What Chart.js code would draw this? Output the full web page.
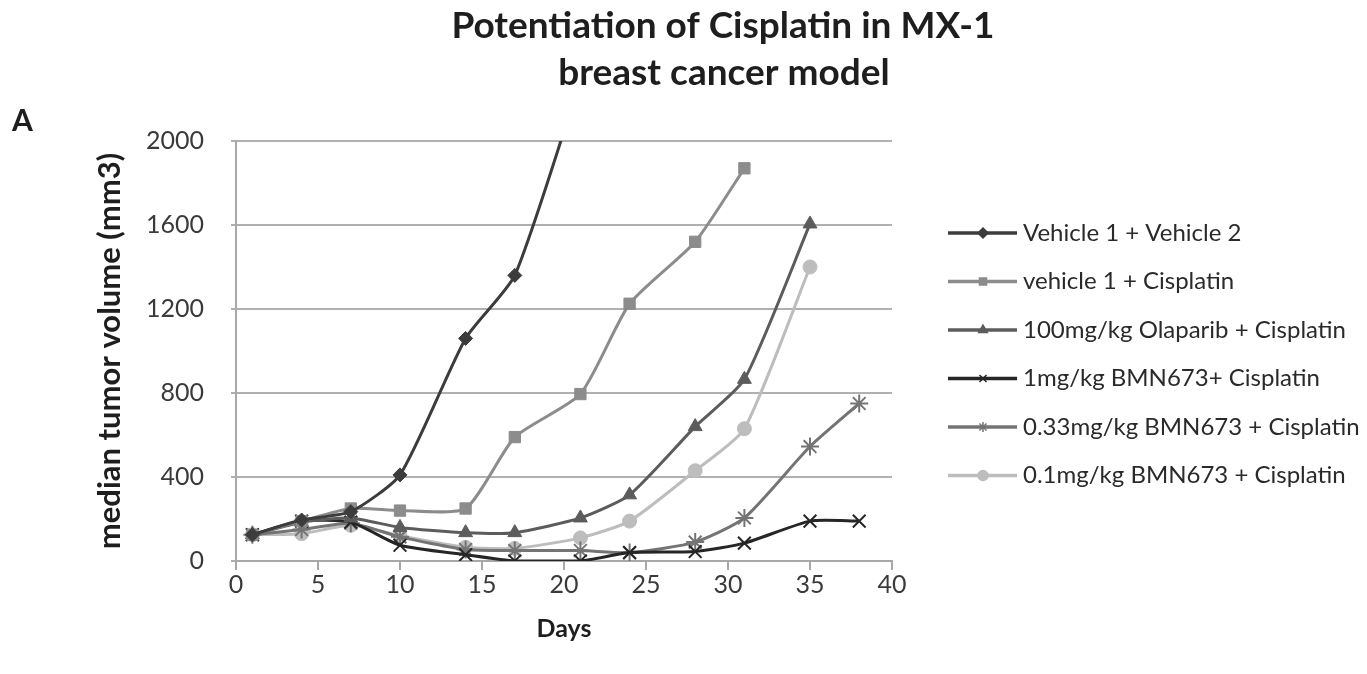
<!DOCTYPE html>
<html>
<head>
<meta charset="utf-8">
<script src="https://cdn.jsdelivr.net/npm/chart.js@4/dist/chart.umd.min.js"></script>
<style>
  html, body { margin: 0; padding: 0; background: #fff; }
  #wrap { width: 1367px; height: 674px; position: relative; }
</style>
</head>
<body>
<div id="wrap"><canvas id="c" width="1367" height="674"></canvas></div>
<script>
// values
let days = [1, 4, 7, 10, 14, 17, 21, 24, 28, 31, 35, 38]
let seriesNames = [
  'Vehicle 1 + Vehicle 2',
  'vehicle 1 + Cisplatin',
  '100mg/kg Olaparib + Cisplatin',
  '1mg/kg BMN673+ Cisplatin',
  '0.33mg/kg BMN673 + Cisplatin',
  '0.1mg/kg BMN673 + Cisplatin'
]
let vehicleVehicle = [125, 195, 235, 410, 1060, 1360, 2290, null, null, null, null, null]
let vehicleCis     = [125, 190, 250, 240, 250, 590, 795, 1225, 1520, 1870, null, null]
let olaparibCis    = [125, 185, 205, 160, 135, 135, 205, 315, 640, 865, 1605, null]
let bmn1Cis        = [125, 190, 185, 75, 30, 0, 0, 40, 45, 85, 190, 190]
let bmn033Cis      = [125, 150, 180, 115, 55, 50, 50, 40, 90, 205, 545, 750]
let bmn01Cis       = [125, 130, 170, 120, 65, 60, 110, 190, 430, 630, 1400, null]
let xTicks = [0, 5, 10, 15, 20, 25, 30, 35, 40]
let yTicks = [0, 400, 800, 1200, 1600, 2000]

let seriesValues = [vehicleVehicle, vehicleCis, olaparibCis, bmn1Cis, bmn033Cis, bmn01Cis]
let colors = ['#3c3c3c', '#8c8c8c', '#5c5c5c', '#262626', '#747474', '#bdbdbd']
let markers = ['rectRot', 'rect', 'triangle', 'crossRot', 'star', 'circle']
let markerSizes = [7, 8, 8, 9, 9, 7]

const FONT = 'Lato, "Open Sans", sans-serif'

function toPoints(vals) {
  let pts = []
  for (let i = 0; i < days.length; i++) {
    if (vals[i] == null) continue
    pts.push({x: days[i], y: vals[i]})
  }
  return pts
}

let datasets = seriesNames.map((name, i) => ({
  label: name,
  data: toPoints(seriesValues[i]),
  borderColor: colors[i],
  backgroundColor: colors[i],
  borderWidth: 3,
  pointStyle: markers[i],
  pointRadius: markerSizes[i],
  pointBorderWidth: (markers[i] == 'crossRot' || markers[i] == 'star') ? 2 : 1,
  pointBackgroundColor: colors[i],
  pointBorderColor: colors[i],
  tension: 0.2,
  fill: false
}))

function drawMarker(ctx, style, r, x, y, color, bw) {
  ctx.save()
  ctx.fillStyle = color
  ctx.strokeStyle = color
  ctx.lineWidth = bw
  if (Chart.helpers && Chart.helpers.drawPoint) {
    Chart.helpers.drawPoint(ctx, {pointStyle: style, radius: r, rotation: 0, borderWidth: bw}, x, y)
  } else {
    ctx.beginPath(); ctx.arc(x, y, r, 0, Math.PI * 2); ctx.fill()
  }
  ctx.restore()
}

// title, panel letter and the legend on the right
let extras = {
  id: 'extras',
  afterDraw(chart) {
    let ctx = chart.ctx
    ctx.save()
    ctx.fillStyle = '#1e1e1e'
    ctx.textBaseline = 'alphabetic'
    ctx.textAlign = 'center'
    ctx.font = 'bold 37px ' + FONT
    ctx.fillText('Potentiation of Cisplatin in MX-1', 723, 38)
    ctx.fillText('breast cancer model', 724, 85)
    ctx.textAlign = 'left'
    ctx.font = 'bold 30px ' + FONT
    ctx.fillText('A', 12, 131)

    ctx.textBaseline = 'middle'
    ctx.font = '24px ' + FONT
    for (let i = 0; i < seriesNames.length; i++) {
      let y = 233 + i * 48.5
      ctx.strokeStyle = colors[i]
      ctx.lineWidth = 3.5
      ctx.beginPath(); ctx.moveTo(948, y); ctx.lineTo(1017, y); ctx.stroke()
      drawMarker(ctx, markers[i], 5, 983, y, colors[i], 1.5)
      ctx.fillStyle = '#2a2a2a'
      ctx.fillText(seriesNames[i], 1023, y)
    }
    ctx.restore()
  }
}

new Chart(document.getElementById('c').getContext('2d'), {
  type: 'line',
  data: { datasets: datasets },
  plugins: [extras],
  options: {
    responsive: false,
    animation: false,
    layout: { padding: { left: 90, right: 475, top: 141, bottom: 28 } },
    plugins: { legend: { display: false }, tooltip: { enabled: false } },
    scales: {
      x: {
        type: 'linear',
        min: 0, max: 40,
        afterBuildTicks: s => { s.ticks = xTicks.map(v => ({value: v})) },
        afterFit: s => { s.height = 85 },
        grid: { drawOnChartArea: false, drawTicks: true, tickLength: 9, color: '#a8a8a8', lineWidth: 2 },
        border: { color: '#a8a8a8', width: 2 },
        ticks: { font: { family: FONT, size: 25 }, color: '#3a3a3a', padding: 0, maxRotation: 0,
                 callback: v => String(v) },
        title: { display: true, text: 'Days', font: { family: FONT, size: 25, weight: 'bold' }, color: '#1e1e1e', padding: 2 }
      },
      y: {
        min: 0, max: 2000,
        afterBuildTicks: s => { s.ticks = yTicks.map(v => ({value: v})) },
        afterFit: s => { s.width = 146 },
        grid: { color: '#b0b0b0', lineWidth: 2, tickLength: 5, drawTicks: true },
        border: { color: '#a8a8a8', width: 2 },
        ticks: { font: { family: FONT, size: 25 }, color: '#3a3a3a', padding: 27,
                 callback: v => String(v) },
        title: { display: true, text: 'median tumor volume (mm3)', font: { family: FONT, size: 31, weight: 'bold' }, color: '#1e1e1e', padding: 1 }
      }
    }
  }
})
</script>
</body>
</html>
